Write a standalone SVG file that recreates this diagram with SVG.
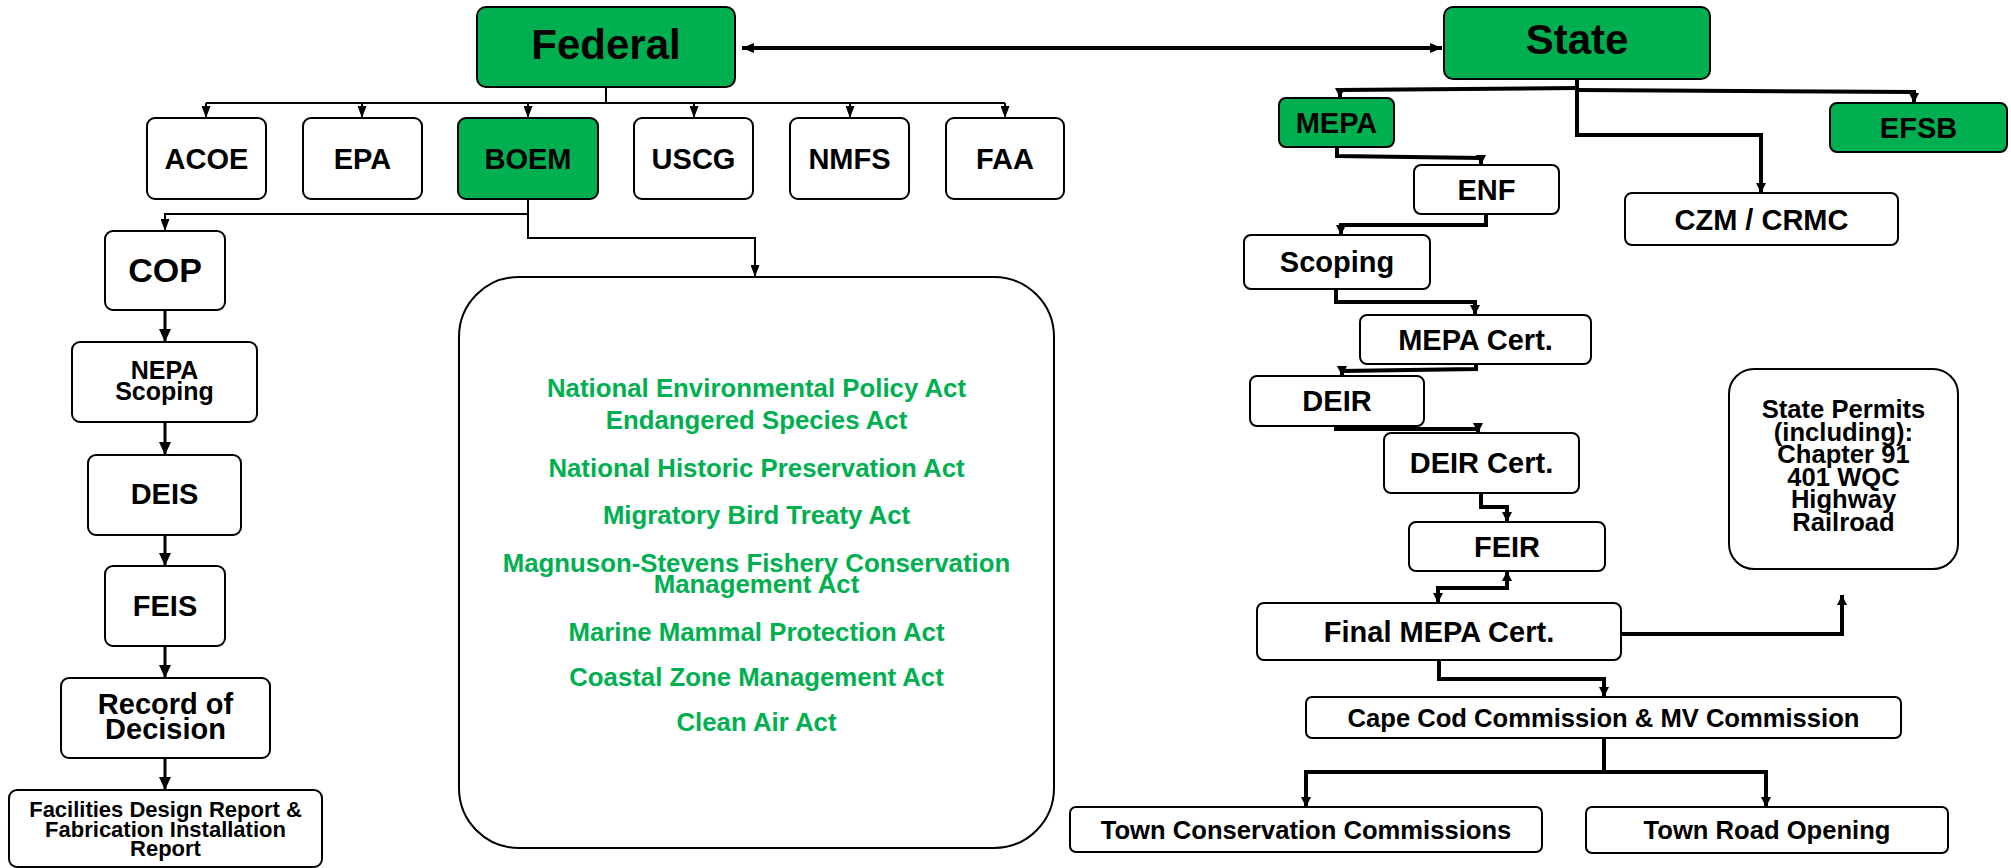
<svg xmlns="http://www.w3.org/2000/svg" width="2011" height="868" viewBox="0 0 2011 868">
<style>
.box{fill:#fff;stroke:#000;stroke-width:2}
.grn{fill:#00b050;stroke:#000;stroke-width:2}
text{font-family:"Liberation Sans",Arial,Helvetica,sans-serif;font-weight:bold;text-anchor:middle;fill:#000}
.t29{font-size:29px}
.t26{font-size:25.6px}
.law{font-size:25.8px;fill:#00b050}
.thin{fill:none;stroke:#000;stroke-width:2}
.mid{fill:none;stroke:#000;stroke-width:3}
.thick{fill:none;stroke:#000;stroke-width:4}
</style>
<defs>
<marker id="a1" viewBox="0 0 12 9" refX="12" refY="4.5" markerWidth="12" markerHeight="9" markerUnits="userSpaceOnUse" orient="auto-start-reverse"><path d="M0,0 L12,4.5 L0,9 z" fill="#000"/></marker>
<marker id="a2" viewBox="0 0 12 10" refX="12" refY="5" markerWidth="12" markerHeight="10" markerUnits="userSpaceOnUse" orient="auto-start-reverse"><path d="M0,0 L12,5 L0,10 z" fill="#000"/></marker>
<marker id="a3" viewBox="0 0 10 10" refX="10" refY="5" markerWidth="10" markerHeight="10" markerUnits="userSpaceOnUse" orient="auto-start-reverse"><path d="M0,0 L10,5 L0,10 z" fill="#000"/></marker>
<marker id="a4" viewBox="0 0 13 12" refX="13" refY="6" markerWidth="13" markerHeight="12" markerUnits="userSpaceOnUse" orient="auto-start-reverse"><path d="M0,0 L13,6 L0,12 z" fill="#000"/></marker>
</defs>
<g id="connectors">
<path class="thick" d="M742,48 H1442" marker-start="url(#a2)" marker-end="url(#a2)"/>
<path class="thin" d="M606,87 V103"/>
<path class="thin" d="M206,103 H1005"/>
<path class="thin" d="M206,103 V118" marker-end="url(#a1)"/>
<path class="thin" d="M362,103 V118" marker-end="url(#a1)"/>
<path class="thin" d="M528,103 V118" marker-end="url(#a1)"/>
<path class="thin" d="M694,103 V118" marker-end="url(#a1)"/>
<path class="thin" d="M850,103 V118" marker-end="url(#a1)"/>
<path class="thin" d="M1005,103 V118" marker-end="url(#a1)"/>
<path class="thin" d="M528,199 V238 H755 V277" marker-end="url(#a1)"/>
<path class="thin" d="M528,214 H165 V231" marker-end="url(#a1)"/>
<path class="mid" d="M165,310 V342" marker-end="url(#a4)"/>
<path class="mid" d="M165,422 V455" marker-end="url(#a4)"/>
<path class="mid" d="M165,535 V566" marker-end="url(#a4)"/>
<path class="mid" d="M165,646 V678" marker-end="url(#a4)"/>
<path class="mid" d="M165,758 V790" marker-end="url(#a4)"/>
<path class="thick" d="M1577,79 V135 H1761 V193" marker-end="url(#a3)"/>
<path class="thick" d="M1577,88 L1340,90 V98" marker-end="url(#a3)"/>
<path class="thick" d="M1577,90 L1914,92 V103" marker-end="url(#a3)"/>
<path class="thick" d="M1337,147 V156 L1481,158 V165" marker-end="url(#a3)"/>
<path class="thick" d="M1486,214 V225 H1341 V235" marker-end="url(#a3)"/>
<path class="thick" d="M1336,289 V302 H1475 V315" marker-end="url(#a3)"/>
<path class="thick" d="M1476,364 V369 L1342,371 V376" marker-end="url(#a3)"/>
<path class="thick" d="M1336,426 V429 H1478 V433" marker-end="url(#a3)"/>
<path class="thick" d="M1481,493 V507 H1507 V522" marker-end="url(#a3)"/>
<path class="thick" d="M1507,571 V588 H1438 V603" marker-start="url(#a3)" marker-end="url(#a3)"/>
<path class="thick" d="M1609,634 H1842 V595" marker-end="url(#a3)"/>
<path class="thick" d="M1439,660 V679 H1604 V697" marker-end="url(#a3)"/>
<path class="thick" d="M1604,738 V772 H1306 V807" marker-end="url(#a3)"/>
<path class="thick" d="M1604,772 H1766 V807" marker-end="url(#a3)"/>
</g>
<g id="federal"><rect class="grn" x="477" y="7" width="258" height="80" rx="9"/><text x="606" y="59" font-size="42">Federal</text></g>
<g id="state"><rect class="grn" x="1444" y="7" width="266" height="72" rx="9"/><text x="1577" y="54" font-size="42">State</text></g>
<g id="acoe"><rect class="box" x="147" y="118" width="119" height="81" rx="8"/><text class="t29" x="206.5" y="169">ACOE</text></g>
<g id="epa"><rect class="box" x="303" y="118" width="119" height="81" rx="8"/><text class="t29" x="362.5" y="169">EPA</text></g>
<g id="boem"><rect class="grn" x="458" y="118" width="140" height="81" rx="8"/><text class="t29" x="528" y="169">BOEM</text></g>
<g id="uscg"><rect class="box" x="634" y="118" width="119" height="81" rx="8"/><text class="t29" x="693.5" y="169">USCG</text></g>
<g id="nmfs"><rect class="box" x="790" y="118" width="119" height="81" rx="8"/><text class="t29" x="849.5" y="169">NMFS</text></g>
<g id="faa"><rect class="box" x="946" y="118" width="118" height="81" rx="8"/><text class="t29" x="1005" y="169">FAA</text></g>
<g id="cop"><rect class="box" x="105" y="231" width="120" height="79" rx="8"/><text x="165" y="282" font-size="34">COP</text></g>
<g id="nepa-scoping"><rect class="box" x="72" y="342" width="185" height="80" rx="8"/><text x="164.5" y="379" font-size="25">NEPA</text><text x="164.5" y="400" font-size="25">Scoping</text></g>
<g id="deis"><rect class="box" x="88" y="455" width="153" height="80" rx="8"/><text class="t29" x="164.5" y="504">DEIS</text></g>
<g id="feis"><rect class="box" x="105" y="566" width="120" height="80" rx="8"/><text class="t29" x="165" y="616">FEIS</text></g>
<g id="rod"><rect class="box" x="61" y="678" width="209" height="80" rx="8"/><text class="t29" x="165.5" y="714">Record of</text><text class="t29" x="165.5" y="739">Decision</text></g>
<g id="facilities"><rect class="box" x="9" y="790" width="313" height="77" rx="8"/><text x="165.5" y="817" font-size="22">Facilities Design Report &amp;</text><text x="165.5" y="837" font-size="22">Fabrication Installation</text><text x="165.5" y="856" font-size="22">Report</text></g>
<g id="laws"><rect class="box" x="459" y="277" width="595" height="571" rx="60"/>
<text class="law" x="756.5" y="397">National Environmental Policy Act</text>
<text class="law" x="756.5" y="429">Endangered Species Act</text>
<text class="law" x="756.5" y="477">National Historic Preservation Act</text>
<text class="law" x="756.5" y="524">Migratory Bird Treaty Act</text>
<text class="law" x="756.5" y="572">Magnuson-Stevens Fishery Conservation</text>
<text class="law" x="756.5" y="593">Management Act</text>
<text class="law" x="756.5" y="641">Marine Mammal Protection Act</text>
<text class="law" x="756.5" y="686">Coastal Zone Management Act</text>
<text class="law" x="756.5" y="731">Clean Air Act</text>
</g>
<g id="mepa"><rect class="grn" x="1279" y="98" width="115" height="49" rx="7"/><text class="t29" x="1336.5" y="133">MEPA</text></g>
<g id="efsb"><rect class="grn" x="1830" y="103" width="177" height="49" rx="7"/><text class="t29" x="1918.5" y="138">EFSB</text></g>
<g id="enf"><rect class="box" x="1414" y="165" width="145" height="49" rx="7"/><text class="t29" x="1486.5" y="200">ENF</text></g>
<g id="czm"><rect class="box" x="1625" y="193" width="273" height="52" rx="7"/><text class="t29" x="1761.5" y="230">CZM / CRMC</text></g>
<g id="scoping"><rect class="box" x="1244" y="235" width="186" height="54" rx="7"/><text class="t29" x="1337" y="272">Scoping</text></g>
<g id="mepa-cert"><rect class="box" x="1360" y="315" width="231" height="49" rx="7"/><text class="t29" x="1475.5" y="350">MEPA Cert.</text></g>
<g id="deir"><rect class="box" x="1250" y="376" width="174" height="50" rx="7"/><text class="t29" x="1337" y="411">DEIR</text></g>
<g id="deir-cert"><rect class="box" x="1384" y="433" width="195" height="60" rx="7"/><text class="t29" x="1481.5" y="473">DEIR Cert.</text></g>
<g id="feir"><rect class="box" x="1409" y="522" width="196" height="49" rx="7"/><text class="t29" x="1507" y="557">FEIR</text></g>
<g id="final-mepa"><rect class="box" x="1257" y="603" width="364" height="57" rx="7"/><text class="t29" x="1439" y="642">Final MEPA Cert.</text></g>
<g id="state-permits"><rect class="box" x="1729" y="369" width="229" height="200" rx="25"/>
<text class="t26" x="1843.5" y="418">State Permits</text>
<text class="t26" x="1843.5" y="440.6">(including):</text>
<text class="t26" x="1843.5" y="463.2">Chapter 91</text>
<text class="t26" x="1843.5" y="485.8">401 WQC</text>
<text class="t26" x="1843.5" y="508.4">Highway</text>
<text class="t26" x="1843.5" y="531">Railroad</text>
</g>
<g id="cape-cod"><rect class="box" x="1306" y="697" width="595" height="41" rx="6"/><text class="t26" x="1603.5" y="727">Cape Cod Commission &amp; MV Commission</text></g>
<g id="town-conservation"><rect class="box" x="1070" y="807" width="472" height="45" rx="6"/><text class="t26" x="1306" y="839">Town Conservation Commissions</text></g>
<g id="town-road"><rect class="box" x="1586" y="807" width="362" height="46" rx="6"/><text class="t26" x="1767" y="839">Town Road Opening</text></g>
</svg>
